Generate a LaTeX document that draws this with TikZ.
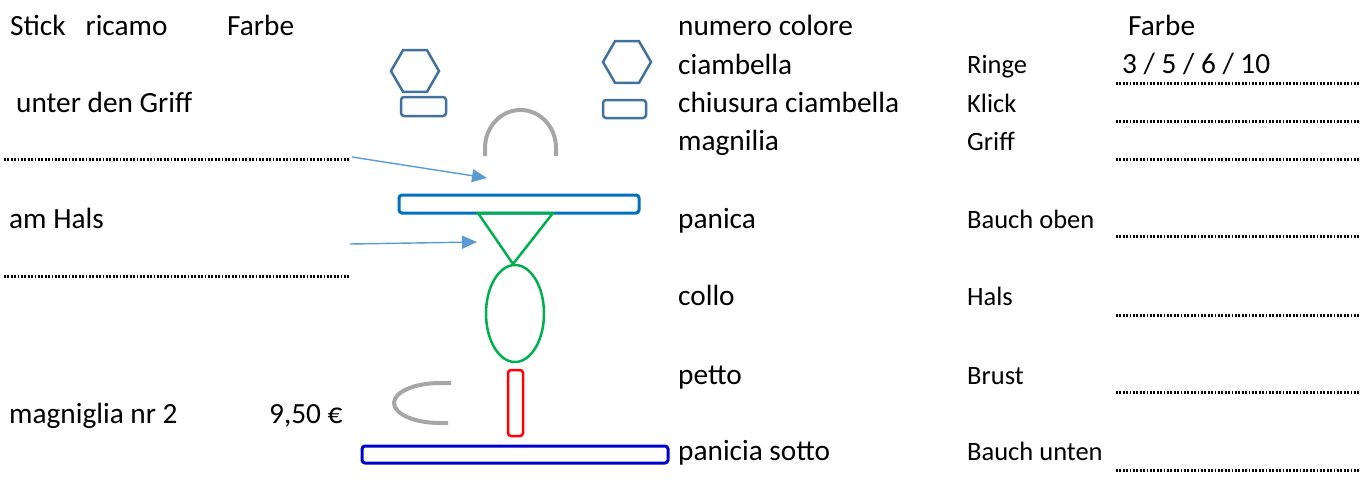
\documentclass[tikz,border=0pt]{standalone}
\usepackage{fontspec}
\setmainfont{Carlito}
\usetikzlibrary{shapes.geometric,arrows.meta}
\definecolor{hexblue}{HTML}{41719C}
\definecolor{barblue}{HTML}{0070C0}
\definecolor{darkblue}{HTML}{0000CC}
\definecolor{okgreen}{HTML}{00B050}
\definecolor{arrowblue}{HTML}{5B9BD5}
\definecolor{arcgray}{HTML}{A6A6A6}
\tikzset{
  big/.style={inner sep=0pt,anchor=base west,font=\fontsize{29.3}{34}\selectfont},
  small/.style={inner sep=0pt,anchor=base west,font=\fontsize{26.5}{30}\selectfont},
  dotline/.style={line width=3pt,dash pattern=on 1.7pt off 1.7pt,black},
  hexa/.style={regular polygon,regular polygon sides=6,shape border rotate=0,draw=hexblue,line width=2.5pt,minimum width=48pt,minimum height=34pt,inner sep=0pt},
  smallbox/.style={draw=hexblue,line width=2.5pt,rounded corners=3pt,inner sep=0pt},
  pointer/.style={draw=arrowblue,line width=1.4pt,-{Triangle[length=15pt,width=13pt]}},
}
\begin{document}
\begin{tikzpicture}[x=1pt,y=-1pt]
\useasboundingbox (0,0) rectangle (1367,483);
% left texts
\node[big] (stick) at (10,35) {Stick\ \ \ ricamo};
\node[big] (farbeL) at (227,35) {Farbe};
\node[big] (unter) at (16,112) {unter den Griff};
\node[big] (amhals) at (9,228) {am Hals};
\node[big] (magn2) at (9,423) {magniglia nr 2};
\node[big] (price) at (269,423) {9,50 €};
% middle texts
\node[big] (numero) at (678,35) {numero colore};
\node[big] (ciamb) at (678,74) {ciambella};
\node[big] (chius) at (678,112) {chiusura ciambella};
\node[big] (magnilia) at (678,150) {magnilia};
\node[big] (panica) at (678,228) {panica};
\node[big] (collo) at (678,305) {collo};
\node[big] (petto) at (678,384) {petto};
\node[big] (sotto) at (678,460) {panicia sotto};
% german labels
\node[small] (ringe) at (967,73) {Ringe};
\node[small] (klick) at (967,112) {Klick};
\node[small] (griff) at (967,150) {Griff};
\node[small] (boben) at (967,228) {Bauch oben};
\node[small] (hals) at (967,305) {Hals};
\node[small] (brust) at (967,384) {Brust};
\node[small] (bunten) at (967,460) {Bauch unten};
% right
\node[big] (farbeR) at (1128,35) {Farbe};
\node[big] (nums) at (1122,73) {3 / 5 / 6 / 10};
% dotted lines
\foreach \yy in {83,121,159,236,315,392,470}
  \draw[dotline] (1116,\yy) -- (1360,\yy);
\draw[dotline] (4,159) -- (349,159);
\draw[dotline] (4,276) -- (349,276);
% shapes
\node[hexa] (hexL) at (415,71) {};
\node[hexa] (hexR) at (627,62) {};
\node[smallbox,minimum width=45pt,minimum height=19pt] (boxL) at (423.5,106.5) {};
\node[smallbox,minimum width=43pt,minimum height=18pt] (boxR) at (624.5,109) {};
\draw[arcgray,line width=4pt] (485,156) -- (485,148) arc[start angle=180,end angle=360,x radius=35.5,y radius=38] -- (556,156);
\node[draw=barblue,line width=3pt,rounded corners=3pt,minimum width=240pt,minimum height=18pt,inner sep=0pt] (bar) at (519,204) {};
\draw[okgreen,line width=2.5pt,line join=miter] (478,213) -- (553,213) -- (513,264) -- cycle;
\node[ellipse,draw=okgreen,line width=2.5pt,minimum width=58pt,minimum height=97pt,inner sep=0pt] (ell) at (515,313.5) {};
\node[draw=red,line width=2.5pt,rounded corners=3pt,minimum width=15pt,minimum height=66pt,inner sep=0pt] (rbar) at (515.5,403) {};
\draw[arcgray,line width=4pt] (451,383) -- (440,383) arc[start angle=270,end angle=90,x radius=46,y radius=20] -- (448,423);
\node[draw=darkblue,line width=3pt,rounded corners=3pt,minimum width=306pt,minimum height=17pt,inner sep=0pt] (bar2) at (515,454.5) {};
% arrows
\coordinate (a1s) at (352,157);
\coordinate (a1e) at (487,178);
\coordinate (a2s) at (350,244);
\coordinate (a2e) at (477,242);
\draw[pointer] (a1s) -- (a1e);
\draw[pointer] (a2s) -- (a2e);
\end{tikzpicture}
\end{document}
